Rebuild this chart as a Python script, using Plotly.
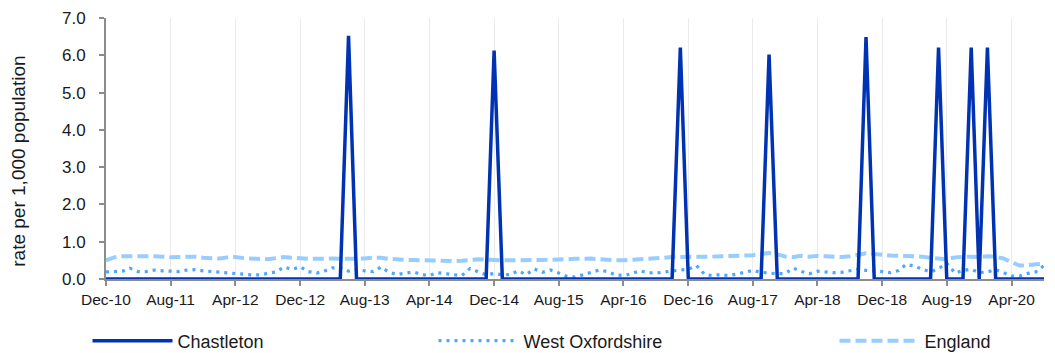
import pandas as pd
import plotly.graph_objects as go

months = pd.date_range("2010-12-01", periods=117, freq="MS")

tick_labels = ["Dec-10", "Aug-11", "Apr-12", "Dec-12", "Aug-13", "Apr-14", "Dec-14",
               "Aug-15", "Apr-16", "Dec-16", "Aug-17", "Apr-18", "Dec-18", "Aug-19", "Apr-20"]

chastleton = [
    0, 0, 0, 0, 0, 0, 0, 0, 0, 0, 0, 0, 0, 0, 0, 0, 0, 0, 0, 0, 0, 0, 0, 0, 0, 0, 0, 0, 0,
    0, 6.52, 0, 0, 0, 0, 0, 0, 0, 0, 0, 0, 0, 0, 0, 0, 0, 0, 0, 6.13, 0, 0, 0, 0, 0, 0, 0, 0, 0,
    0, 0, 0, 0, 0, 0, 0, 0, 0, 0, 0, 0, 0, 6.21, 0, 0, 0, 0, 0, 0, 0, 0, 0, 0, 6.02, 0, 0, 0, 0,
    0, 0, 0, 0, 0, 0, 0, 6.49, 0, 0, 0, 0, 0, 0, 0, 0, 6.21, 0, 0, 0, 6.21, 0, 6.21, 0, 0, 0, 0, 0, 0, 0,
]

west_oxfordshire = [
    0.19, 0.19, 0.21, 0.29, 0.20, 0.20, 0.24, 0.22, 0.20, 0.20, 0.24, 0.25, 0.22, 0.20, 0.19,
    0.16, 0.15, 0.14, 0.11, 0.11, 0.16, 0.19, 0.32, 0.26, 0.33, 0.20, 0.16, 0.21, 0.30,
    0.30, 0.21, 0.25, 0.22, 0.20, 0.32, 0.18, 0.12, 0.16, 0.19, 0.12, 0.09, 0.17, 0.15, 0.11,
    0.09, 0.28, 0.19, 0.11, 0.15, 0.11, 0.12, 0.22, 0.12, 0.27, 0.18, 0.24, 0.16, 0.07,
    0.05, 0.11, 0.18, 0.24, 0.20, 0.11, 0.09, 0.14, 0.22, 0.17, 0.16, 0.19, 0.23, 0.24, 0.26,
    0.36, 0.12, 0.09, 0.12, 0.09, 0.13, 0.19, 0.23, 0.18, 0.16, 0.14, 0.15, 0.29, 0.20,
    0.14, 0.21, 0.18, 0.17, 0.18, 0.22, 0.26, 0.23, 0.22, 0.20, 0.17, 0.23, 0.39, 0.35, 0.26,
    0.19, 0.28, 0.42, 0.16, 0.23, 0.26, 0.17, 0.19, 0.25, 0.17, 0.08, 0.08, 0.15, 0.19, 0.36,
]

england = [
    0.50, 0.58, 0.61, 0.61, 0.63, 0.63, 0.61, 0.60, 0.58, 0.59, 0.60, 0.60, 0.57, 0.56, 0.55,
    0.58, 0.59, 0.56, 0.55, 0.54, 0.53, 0.56, 0.59, 0.57, 0.55, 0.54, 0.54, 0.55, 0.55,
    0.54, 0.54, 0.54, 0.55, 0.57, 0.57, 0.54, 0.52, 0.51, 0.51, 0.50, 0.50, 0.49, 0.48, 0.48,
    0.49, 0.51, 0.53, 0.52, 0.50, 0.50, 0.50, 0.51, 0.51, 0.51, 0.51, 0.51, 0.52, 0.53,
    0.54, 0.55, 0.55, 0.53, 0.51, 0.50, 0.50, 0.51, 0.52, 0.53, 0.55, 0.57, 0.59, 0.59, 0.58,
    0.58, 0.59, 0.60, 0.61, 0.61, 0.62, 0.63, 0.64, 0.66, 0.70, 0.66, 0.60, 0.59, 0.62,
    0.60, 0.62, 0.61, 0.59, 0.59, 0.61, 0.66, 0.69, 0.67, 0.64, 0.63, 0.62, 0.62, 0.62, 0.60,
    0.57, 0.54, 0.53, 0.58, 0.60, 0.60, 0.59, 0.61, 0.60, 0.55, 0.45, 0.36, 0.37, 0.40, 0.41,
]

FONT = "Liberation Sans, Arial, sans-serif"
PAGE_W, PAGE_H = 1055, 353
OFF = 8  # default body margin of the html page
W, H = PAGE_W - OFF, PAGE_H - OFF
# plot area in page pixels
PL, PR, PT, PB = 106, 1044, 18, 279.5
L, R, T, B = PL - OFF, PAGE_W - PR, PT - OFF, PAGE_H - PB


def px_x(px):
    return (px - PL) / (PR - PL)


def px_y(py):
    return (PB - py) / (PB - PT)


fig = go.Figure()
fig.add_trace(go.Scatter(
    x=months, y=england, name="England", mode="lines",
    line=dict(color="#99CCFF", width=4, dash="11px,5px"), legend="legend3",
))
fig.add_trace(go.Scatter(
    x=months, y=west_oxfordshire, name="West Oxfordshire", mode="lines",
    line=dict(color="#4DA6FF", width=3.2, dash="3px,5px"), legend="legend2",
))
fig.add_trace(go.Scatter(
    x=months, y=chastleton, name="Chastleton", mode="lines",
    line=dict(color="#0033B3", width=3.5), legend="legend",
))

leg_y = 1 - (341 - OFF) / H
leg_common = dict(orientation="h", yanchor="middle", xanchor="left",
                  xref="container", yref="container", y=leg_y,
                  itemwidth=80, borderwidth=0,
                  font=dict(family=FONT, size=18, color="#1a1a1a"),
                  bgcolor="rgba(0,0,0,0)")
fig.update_layout(
    width=W, height=H, showlegend=True,
    margin=dict(l=L, r=R, t=T, b=B, autoexpand=False),
    paper_bgcolor="white", plot_bgcolor="white",
    font=dict(family=FONT, color="#1a1a1a"),
    legend=dict(x=(177 - 97.5) / W, **leg_common),
    legend2=dict(x=(523 - 97.5) / W, **leg_common),
    legend3=dict(x=(924 - 97.5) / W, **leg_common),
    xaxis=dict(
        range=[months[0], months[-1]], automargin=False,
        tickmode="array", tickvals=list(months[::8]), ticktext=tick_labels,
        showgrid=True, gridcolor="#EBEBEB", gridwidth=1,
        showline=True, linecolor="#8C8C8C", linewidth=2,
        ticks="outside", ticklen=5, tickcolor="#8C8C8C", tickwidth=1.5,
        tickfont=dict(family=FONT, size=15.5, color="#1a1a1a"),
        zeroline=False,
    ),
    yaxis=dict(
        range=[0, 7], tickmode="linear", tick0=0, dtick=1, tickformat=".1f",
        automargin=False,
        showgrid=False, showline=True, linecolor="#8C8C8C", linewidth=2,
        ticks="outside", ticklen=5, tickcolor="#8C8C8C", tickwidth=1.5,
        tickfont=dict(family=FONT, size=17, color="#1a1a1a"),
        ticklabelstandoff=10,
        zeroline=False,
    ),
    annotations=[dict(
        text="rate per 1,000 population", textangle=-90,
        x=px_x(19), y=px_y(162), xref="paper", yref="paper",
        xanchor="center", yanchor="middle", showarrow=False,
        font=dict(family=FONT, size=19, color="#1a1a1a"),
    )],
)

fig.write_html("out.html")
